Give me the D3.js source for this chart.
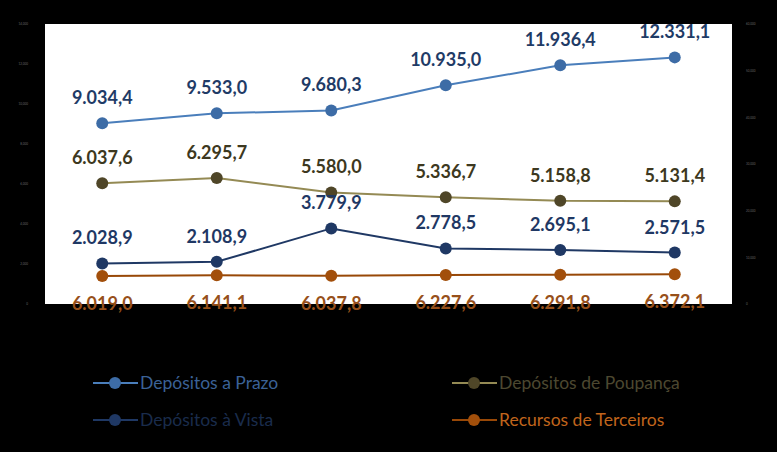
<!DOCTYPE html>
<html>
<head>
<meta charset="utf-8">
<script src="https://cdn.jsdelivr.net/npm/d3@7"></script>
<style>
  html, body { margin: 0; padding: 0; background: #000; }
  svg { display: block; }
</style>
</head>
<body>
<svg id="chart" width="777" height="452"></svg>
<script>
// data
const years = ["p1", "p2", "p3", "p4", "p5", "p6"];
const prazo = [9034.4, 9533.0, 9680.3, 10935.0, 11936.4, 12331.1];
const poupanca = [6037.6, 6295.7, 5580.0, 5336.7, 5158.8, 5131.4];
const vista = [2028.9, 2108.9, 3779.9, 2778.5, 2695.1, 2571.5];
const terceiros = [6019.0, 6141.1, 6037.8, 6227.6, 6291.8, 6372.1];
const leftTicks = [0, 2000, 4000, 6000, 8000, 10000, 12000, 14000];
const rightTicks = [0, 10000, 20000, 30000, 40000, 50000, 60000];

const margin = { top: 24, right: 45, bottom: 148, left: 45 };
const W = 777, H = 452;
const plotW = W - margin.left - margin.right;
const plotH = H - margin.top - margin.bottom;

// 12,331.1 -> 12.331,1
const fmt = (v) => d3.format(",.1f")(v).replace(/,/g, "#").replace(".", ",").replace(/#/g, ".");

const svg = d3.select("#chart");

svg.append("rect")
  .attr("x", margin.left).attr("y", margin.top)
  .attr("width", plotW).attr("height", plotH)
  .attr("fill", "#fff");

const g = svg.append("g").attr("transform", `translate(${margin.left},${margin.top})`);

const x = d3.scalePoint().domain(years).range([0, plotW]).padding(0.5);
const yL = d3.scaleLinear().domain([0, 14000]).range([plotH, 0]);
const yR = d3.scaleLinear().domain([0, 60000]).range([plotH, 0]); // terceiros sits on the right axis

// tiny axis labels (basically unreadable in the original)
const axL = g.append("g").call(d3.axisLeft(yL).tickValues(leftTicks).tickSize(0).tickPadding(17)
  .tickFormat(d3.format(",")));
axL.select(".domain").remove();
axL.selectAll("text").attr("fill", "#666").style("font-size", "3px").style("font-family", "Lato");

const axR = g.append("g").attr("transform", `translate(${plotW},0)`)
  .call(d3.axisRight(yR).tickValues(rightTicks).tickSize(0).tickPadding(14).tickFormat(d3.format(",")));
axR.select(".domain").remove();
axR.selectAll("text").attr("fill", "#666").style("font-size", "3px").style("font-family", "Lato");

const series = [
  { name: "Depósitos a Prazo", values: prazo, y: yL, line: "#4a7ebb", dot: "#3d6ca6", label: "#1f3b66", legend: "#3b6297", pos: "above" },
  { name: "Depósitos de Poupança", values: poupanca, y: yL, line: "#948a54", dot: "#4f4628", label: "#3d3820", legend: "#4d4830", pos: "above" },
  { name: "Depósitos à Vista", values: vista, y: yL, line: "#1f3864", dot: "#1f3864", label: "#1f3864", legend: "#1a2c4c", pos: "above" },
  { name: "Recursos de Terceiros", values: terceiros, y: yR, line: "#984807", dot: "#a24f0b", label: "#97501a", legend: "#c0651c", pos: "below" }
];

// draw from bottom series to top so blue sits over
series.slice().reverse().forEach((s) => {
  const line = d3.line().x((d, i) => x(years[i])).y((d) => s.y(d));
  g.append("path")
    .datum(s.values)
    .attr("d", line)
    .attr("fill", "none")
    .attr("stroke", s.line)
    .attr("stroke-width", 2);

  g.selectAll(null)
    .data(s.values)
    .enter()
    .append("circle")
    .attr("cx", (d, i) => x(years[i]))
    .attr("cy", (d) => s.y(d))
    .attr("r", 6)
    .attr("fill", s.dot);
});

series.forEach((s) => {
  g.selectAll(null)
    .data(s.values)
    .enter()
    .append("text")
    .attr("x", (d, i) => x(years[i]))
    .attr("y", (d) => s.pos === "above" ? s.y(d) - 19 : s.y(d) + 34)
    .attr("text-anchor", "middle")
    .attr("fill", s.label)
    .style("font-family", "Lato, sans-serif")
    .style("font-weight", "bold")
    .style("font-size", "18px")
    .text((d) => fmt(d));
});

// legend, two columns
const legendPos = [[93, 383], [452, 383], [93, 420], [452, 420]];
series.forEach((s, i) => {
  const [lx, ly] = legendPos[i];
  const lg = svg.append("g").attr("transform", `translate(${lx},${ly})`);
  lg.append("line").attr("x1", 0).attr("x2", 45).attr("y1", 0).attr("y2", 0)
    .attr("stroke", s.line).attr("stroke-width", 2);
  lg.append("circle").attr("cx", 22).attr("cy", 0).attr("r", 6).attr("fill", s.dot);
  lg.append("text")
    .attr("x", 47).attr("y", 6)
    .attr("fill", s.legend)
    .style("font-family", "Lato, sans-serif")
    .style("font-size", "17.5px")
    .text(s.name);
});
</script>
</body>
</html>
